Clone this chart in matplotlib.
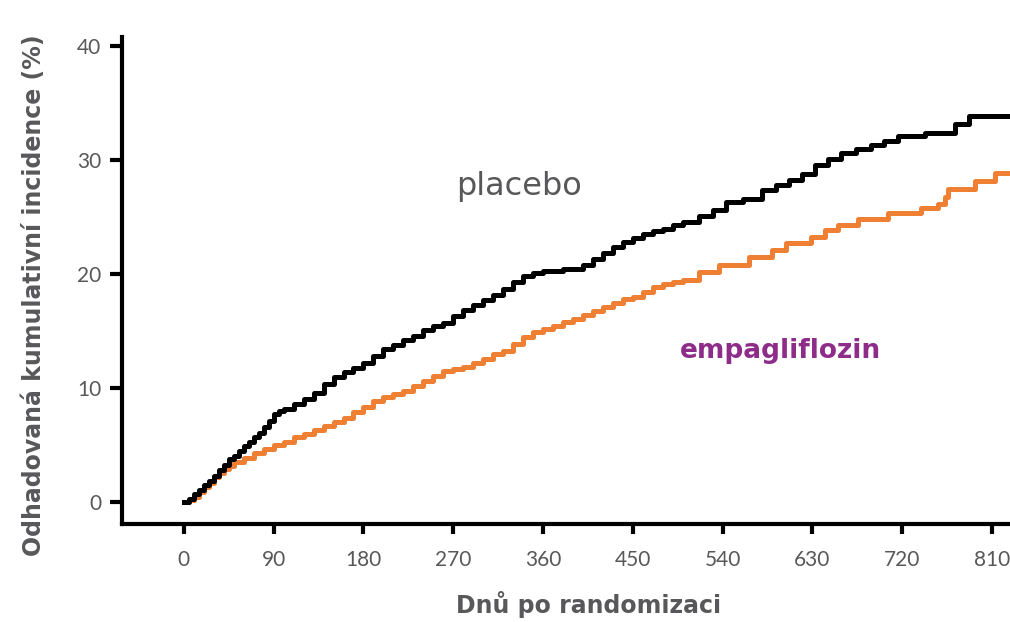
import matplotlib.pyplot as plt
import numpy as np

# odhad z obrázku: den, kumulativní incidence (%)
placebo_days = [0, 5, 10, 15, 20, 25, 30, 35, 40, 45, 50, 55, 60, 65, 70, 75, 80, 85, 90, 95,
                100, 110, 120, 130, 140, 150, 160, 170, 180, 190, 200, 210, 220, 230, 240, 250,
                260, 270, 280, 290, 300, 310, 320, 330, 340, 350, 360, 380, 400, 410, 420, 430,
                440, 450, 460, 470, 480, 490, 500, 516, 530, 543, 560, 579, 593, 606, 620, 633,
                646, 659, 674, 689, 702, 716, 743, 773, 787, 828]
placebo_vals = [0, 0.3, 0.7, 1.1, 1.5, 1.9, 2.3, 2.8, 3.3, 3.8, 4.1, 4.5, 4.9, 5.3, 5.7, 6.1, 6.6, 7.1, 7.7, 8.0,
                8.2, 8.6, 9.1, 9.6, 10.4, 11.0, 11.4, 11.8, 12.2, 12.8, 13.4, 13.8, 14.2, 14.6, 15.1, 15.5,
                15.7, 16.3, 16.9, 17.3, 17.7, 18.2, 18.7, 19.3, 19.8, 20.1, 20.3, 20.5, 20.8, 21.3, 21.9, 22.4,
                22.8, 23.2, 23.5, 23.8, 24.0, 24.3, 24.6, 25.1, 25.6, 26.3, 26.6, 27.4, 27.8, 28.3, 28.8, 29.6,
                30.1, 30.6, 31.0, 31.3, 31.7, 32.1, 32.4, 33.2, 33.9, 33.9]

empa_days = [0, 5, 10, 15, 20, 25, 30, 35, 40, 45, 50, 60, 70, 80, 90, 100, 110, 120, 130, 140,
             150, 160, 170, 180, 190, 200, 210, 220, 230, 240, 250, 260, 270, 280, 290, 300, 310,
             320, 330, 340, 350, 360, 370, 380, 390, 400, 410, 420, 430, 440, 450, 460, 470, 480,
             490, 500, 516, 536, 566, 589, 603, 629, 643, 656, 676, 706, 739, 756, 763, 766, 793,
             813, 828]
empa_vals = [0, 0.2, 0.5, 0.9, 1.3, 1.7, 2.2, 2.6, 2.9, 3.2, 3.5, 3.9, 4.3, 4.7, 5.0, 5.3, 5.7, 6.0, 6.3, 6.7,
             7.0, 7.4, 7.9, 8.4, 8.9, 9.2, 9.5, 9.8, 10.2, 10.6, 11.1, 11.5, 11.7, 11.9, 12.2, 12.6, 13.0,
             13.3, 13.9, 14.5, 14.9, 15.2, 15.5, 15.8, 16.1, 16.4, 16.8, 17.1, 17.5, 17.8, 18.0, 18.4, 18.9, 19.1,
             19.3, 19.5, 20.2, 20.8, 21.5, 22.1, 22.7, 23.3, 23.9, 24.3, 24.8, 25.4, 25.8, 26.2, 26.8, 27.5, 28.2,
             28.9, 28.9]

xticks = [0, 90, 180, 270, 360, 450, 540, 630, 720, 810]
yticks = [0, 10, 20, 30, 40]

plt.rcParams['font.family'] = ['Lato', 'DejaVu Sans']
gray = '#58585a'
bold_fam = ['DejaVu Sans']

fig = plt.figure(figsize=(10.1, 6.22), dpi=100)
ax = fig.add_axes([0.1208, 0.1576, 0.8792, 0.7829])

ax.plot(placebo_days, placebo_vals, drawstyle='steps-post', color='black', lw=3.6, clip_on=False, zorder=3)
ax.plot(empa_days, empa_vals, drawstyle='steps-post', color='#EF7F33', lw=3.6, clip_on=False, zorder=2)

ax.set_xlim(-62, 828)
ax.set_ylim(-1.9, 40.8)
ax.set_xticks(xticks)
ax.set_yticks(yticks)

for s in ['top', 'right']:
    ax.spines[s].set_visible(False)
for s in ['left', 'bottom']:
    ax.spines[s].set_linewidth(3)
ax.tick_params(axis='y', length=9, width=3, labelsize=15, labelcolor=gray, pad=6)
ax.tick_params(axis='x', length=7, width=3, labelsize=15, labelcolor=gray, pad=12)

ax.set_ylabel('Odhadovaná kumulativní incidence (%)', fontsize=17, fontweight='bold', color=gray,
              family=bold_fam)
ax.yaxis.set_label_coords(-0.086, 0.47)
fig.text(589 / 1010, 1 - 605 / 622, 'Dnů po randomizaci', fontsize=17, fontweight='bold',
         color=gray, ha='center', va='center', family=bold_fam)

ax.text(336, 27.7, 'placebo', fontsize=23, color=gray, ha='center', va='center', family=bold_fam)
ax.text(598, 13.3, 'empagliflozin', fontsize=19, fontweight='bold', color='#8E2C8A',
        ha='center', va='center', family=bold_fam)

fig.savefig('out.png', dpi=100)
